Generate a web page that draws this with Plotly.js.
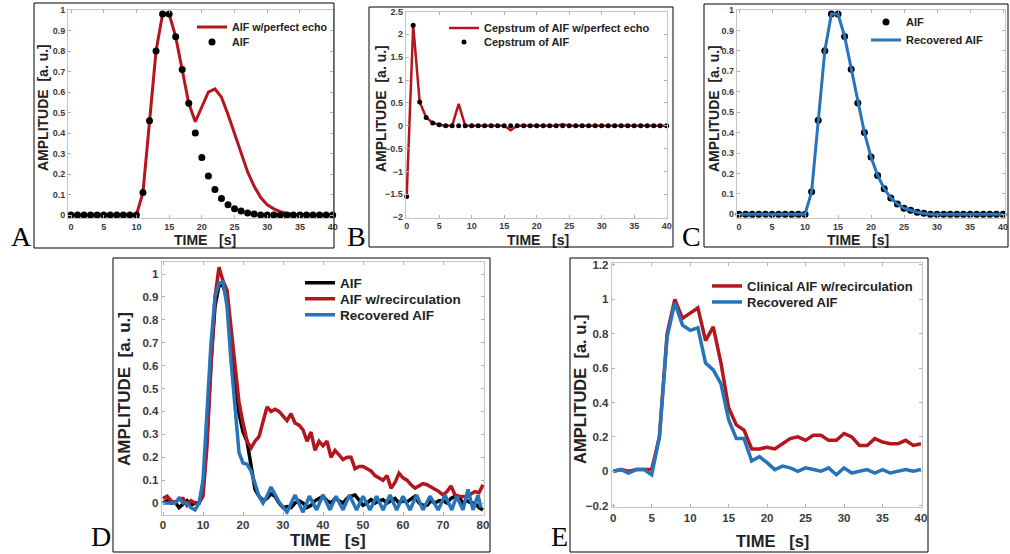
<!DOCTYPE html>
<html>
<head>
<meta charset="utf-8">
<script src="https://cdn.plot.ly/plotly-3.0.1.min.js"></script>
<style>
html,body{margin:0;padding:0;background:#fff;}
#chart{width:1010px;height:554px;}
</style>
</head>
<body>
<div id="chart"></div>
<script>
// ---------------- DATA ----------------
const time40 = [0,1,2,3,4,5,6,7,8,9,10,11,12,13,14,15,16,17,18,19,20,21,22,23,24,25,26,27,28,29,30,31,32,33,34,35,36,37,38,39,40];
const time80 = [0,1,2,3,4,5,6,7,8,9,10,11,12,13,14,15,16,17,18,19,20,21,22,23,24,25,26,27,28,29,30,31,32,33,34,35,36,37,38,39,40,41,42,43,44,45,46,47,48,49,50,51,52,53,54,55,56,57,58,59,60,61,62,63,64,65,66,67,68,69,70,71,72,73,74,75,76,77,78,79,80];

// Panel A
const aifA = [0,0,0,0,0,0,0,0,0,0,0,0.11,0.46,0.80,0.98,0.98,0.87,0.71,0.545,0.40,0.28,0.19,0.125,0.08,0.05,0.03,0.02,0.01,0.005,0,0,0,0,0,0,0,0,0,0,0,0];
const aifEchoA = [0,0,0,0,0,0,0,0,0,0,0,0.11,0.46,0.80,0.98,0.98,0.87,0.71,0.545,0.455,0.53,0.60,0.615,0.575,0.49,0.395,0.295,0.21,0.14,0.085,0.05,0.03,0.016,0.008,0.004,0.002,0,0,0,0,0];

// Panel B
const cepAifB = [-1.55,2.2,0.52,0.18,0.06,0.02,0,0,0,0,0,0,0,0,0,0,0,0,0,0,0,0,0,0,0,0,0,0,0,0,0,0,0,0,0,0,0,0,0,0,0];
const cepEchoB = [-1.55,2.2,0.52,0.18,0.06,0.02,0,0,0.48,0,0,0,0,0,0,0,-0.1,0,0,0,0,0,0,0,0.03,0,0,0,0,0,0,0,0,0,0,0,0,0,0,0,0];

// Panel C
const aifC = [0,0,0,0,0,0,0,0,0,0,0,0.11,0.46,0.80,0.98,0.98,0.87,0.71,0.545,0.40,0.28,0.19,0.125,0.08,0.05,0.03,0.02,0.01,0.005,0,0,0,0,0,0,0,0,0,0,0,0];
const recoveredC = [0,0,0,0,0,0,0,0,0,0,0,0.11,0.46,0.80,0.98,0.98,0.87,0.71,0.545,0.40,0.28,0.19,0.125,0.08,0.05,0.03,0.02,0.01,0.005,0,0,0,0,0,0,0,0,0,0,0,0];

// Panel D
const aifD = [0,0.01,0,0.005,-0.02,-0.005,0.01,-0.01,0,0,0.06,0.3,0.62,0.86,0.95,0.95,0.89,0.72,0.53,0.39,0.31,0.27,0.16,0.06,0.03,0.01,0.02,0.04,0.03,0,-0.02,-0.015,-0.02,0,0.01,0,-0.02,-0.01,0.01,0.02,0.03,0.01,0,0.02,0.01,0,0.02,0.03,0.035,0.01,-0.01,0,0.015,0,0.01,0.015,0,0.01,0.02,0,0.01,0.005,0.02,0.03,0,-0.01,-0.01,0.01,0,0.01,0.01,0,0.02,0.03,0.025,0,0.01,0,0,-0.02,-0.03];
const recircD = [0.02,0.03,0.01,0,0.02,0.02,-0.01,0.01,0,0,0.03,0.25,0.6,0.9,1.03,0.97,0.93,0.76,0.58,0.44,0.35,0.27,0.24,0.27,0.29,0.35,0.42,0.40,0.41,0.40,0.38,0.36,0.39,0.35,0.34,0.32,0.27,0.31,0.23,0.27,0.25,0.27,0.20,0.23,0.21,0.19,0.20,0.20,0.15,0.16,0.16,0.15,0.14,0.12,0.11,0.10,0.12,0.065,0.09,0.13,0.11,0.10,0.08,0.065,0.075,0.085,0.08,0.07,0.06,0.05,0.035,0.05,0.075,0.035,0.03,0.03,0.028,0.04,0.05,0.045,0.08];
const recoveredDt = [0,1,2,3,4,5,6,7,8,9,10,11,12,13,14,15,16,17,18,19,20,21,22,23,24,25,26,27,28,29,31,33,35,36.6,38.4,40,41.75,43.25,45,46.6,48.4,50,51.75,53.4,55,56.75,58.4,60,61.75,63.4,65,66.75,68.8,70.5,72.2,73.4,75,76.25,77.5,78.75,79.5];
const recoveredD = [0,0,0,0,0.02,0,0,-0.02,-0.03,0,0.1,0.4,0.7,0.9,0.96,0.965,0.86,0.62,0.4,0.22,0.175,0.17,0.14,0.08,0.03,0,0.03,0.07,0.04,0.005,-0.04,0.035,-0.04,0.03,-0.03,0.035,-0.03,0.03,-0.03,0.035,-0.03,0.03,-0.03,0.03,-0.03,0.035,-0.03,0.03,-0.03,0.035,-0.03,0.03,-0.03,0.035,-0.03,0.03,-0.03,0.06,-0.03,0.035,-0.02];

// Panel E
const clinicalE = [0,0.01,0,0.01,0.01,0.01,0.2,0.8,1.0,0.89,0.92,0.95,0.76,0.84,0.63,0.37,0.27,0.24,0.13,0.13,0.14,0.13,0.16,0.19,0.2,0.18,0.21,0.21,0.18,0.18,0.22,0.2,0.15,0.15,0.19,0.17,0.16,0.16,0.18,0.15,0.16];
const recoveredE = [0,0.01,-0.01,0.01,0.01,-0.02,0.2,0.78,0.98,0.85,0.82,0.835,0.63,0.59,0.51,0.3,0.19,0.19,0.06,0.085,0.05,0.01,0.03,0.02,0,0.02,0.01,0,0.02,-0.02,0.02,-0.01,0,0.01,-0.01,0.01,-0.01,0,0.01,0,0.01];

// Labels
const yTitleText = "AMPLITUDE  [a. u.]";
const xTitleText = "TIME   [s]";
const panelLetters = ["A","B","C","D","E"];

// ---------------- STYLE ----------------
const W = 1010, H = 554;
const RED = "#b3161c", BLUE = "#2674ba", BLACK = "#000000";
const SANS = "Liberation Sans, Arial, sans-serif";
const px = v => v / W;
const py = v => 1 - v / H;

function axis(domainPx, range, dtick, fontSize, isY) {
  const d = isY ? [py(domainPx[1]), py(domainPx[0])] : [px(domainPx[0]), px(domainPx[1])];
  return {
    domain: d, range: range, dtick: dtick, tick0: 0,
    showgrid: false, zeroline: false,
    showline: true, linecolor: "#c4c4c4", linewidth: 1, mirror: "allticks",
    ticks: "inside", ticklen: 3, tickcolor: "#b0b0b0", tickwidth: 1,
    tickfont: {family: SANS, size: fontSize, color: "#3a3a3a", weight: "bold"},
    fixedrange: true, automargin: false
  };
}

function legendCfg(xPx, yPx, size) {
  return {
    x: px(xPx), y: py(yPx), xanchor: "left", yanchor: "middle",
    bgcolor: "rgba(0,0,0,0)", borderwidth: 0,
    font: {family: SANS, size: size, color: "#222", weight: "bold"},
    itemwidth: 30
  };
}

const traces = [
  // A
  {x: time40, y: aifEchoA, type: "scatter", mode: "lines", name: "AIF w/perfect echo",
   line: {color: RED, width: 3}, xaxis: "x", yaxis: "y", legend: "legend"},
  {x: time40, y: aifA, type: "scatter", mode: "markers", name: "AIF",
   marker: {color: BLACK, size: 7}, cliponaxis: false, xaxis: "x", yaxis: "y", legend: "legend2"},
  // B
  {x: time40, y: cepEchoB, type: "scatter", mode: "lines", name: "Cepstrum of AIF w/perfect echo",
   line: {color: RED, width: 2.5}, xaxis: "x2", yaxis: "y2", legend: "legend3"},
  {x: time40, y: cepAifB, type: "scatter", mode: "markers", name: "Cepstrum of AIF",
   marker: {color: BLACK, size: 5}, cliponaxis: false, xaxis: "x2", yaxis: "y2", legend: "legend4"},
  // C
  {x: time40, y: aifC, type: "scatter", mode: "markers", name: "AIF",
   marker: {color: BLACK, size: 7}, cliponaxis: false, xaxis: "x3", yaxis: "y3", legend: "legend5"},
  {x: time40, y: recoveredC, type: "scatter", mode: "lines", name: "Recovered AIF",
   line: {color: BLUE, width: 3}, xaxis: "x3", yaxis: "y3", legend: "legend6"},
  // D
  {x: time80, y: aifD, type: "scatter", mode: "lines", name: "AIF",
   line: {color: BLACK, width: 3.5}, xaxis: "x4", yaxis: "y4", legend: "legend7"},
  {x: time80, y: recircD, type: "scatter", mode: "lines", name: "AIF w/recirculation",
   line: {color: RED, width: 3.5}, xaxis: "x4", yaxis: "y4", legend: "legend8"},
  {x: recoveredDt, y: recoveredD, type: "scatter", mode: "lines", name: "Recovered AIF",
   line: {color: BLUE, width: 3.5}, xaxis: "x4", yaxis: "y4", legend: "legend9"},
  // E
  {x: time40, y: clinicalE, type: "scatter", mode: "lines", name: "Clinical AIF w/recirculation",
   line: {color: RED, width: 3.5}, xaxis: "x5", yaxis: "y5", legend: "legend10"},
  {x: time40, y: recoveredE, type: "scatter", mode: "lines", name: "Recovered AIF",
   line: {color: BLUE, width: 3.5}, xaxis: "x5", yaxis: "y5", legend: "legend11"}
];

// panel frames [x0,y0,x1,y1] in px
const frames = [[34,3,334,248],[369,7,673,247],[704,4,1008,247],[113,258,490,552],[570,258,928,552]];
const shapes = frames.map(f => ({type: "rect", xref: "paper", yref: "paper",
  x0: px(f[0]), x1: px(f[2]), y0: py(f[3]), y1: py(f[1]), line: {color: "#000", width: 1}, layer: "above"}));

// annotations: axis titles + panel letters
const titleSpecs = [
  // [xTitleX, xTitleY, yTitleX, yTitleY, size]
  [205, 240, 43, 108, 14],
  [538, 240, 381, 109, 14],
  [858, 240, 714, 109, 14],
  [328, 540, 124, 389, 17],
  [772, 541, 580, 390, 16.5]
];
const annotations = [];
titleSpecs.forEach(s => {
  annotations.push({text: xTitleText, xref: "paper", yref: "paper", x: px(s[0]), y: py(s[1]),
    xanchor: "center", yanchor: "middle", showarrow: false,
    font: {family: SANS, size: s[4], color: "#222", weight: "bold"}});
  annotations.push({text: yTitleText, xref: "paper", yref: "paper", x: px(s[2]), y: py(s[3]),
    xanchor: "center", yanchor: "middle", showarrow: false, textangle: -90,
    font: {family: SANS, size: s[4], color: "#222", weight: "bold"}});
});
const letterPos = [[21,254],[356,254],[691,254],[101,554],[559,554]];
letterPos.forEach((p, i) => {
  annotations.push({text: panelLetters[i], xref: "paper", yref: "paper", x: px(p[0]), y: py(p[1]),
    xanchor: "center", yanchor: "bottom", showarrow: false,
    font: {family: "Liberation Serif, Times New Roman, serif", size: 28, color: "#000"}});
});

const layout = {
  width: W, height: H,
  margin: {l: 0, r: 0, t: 0, b: 0, pad: 0},
  paper_bgcolor: "#fff", plot_bgcolor: "#fff",
  showlegend: true,
  xaxis:  Object.assign(axis([68,333], [-0.46,40.05], 5, 9, false), {anchor: "y"}),
  yaxis:  Object.assign(axis([9.5,218.3], [-0.016,1.0025], 0.1, 9, true), {anchor: "x"}),
  xaxis2: Object.assign(axis([405.7,667], [-0.15,40.05], 5, 9, false), {anchor: "y2"}),
  yaxis2: Object.assign(axis([11.5,217.5], [-2.01,2.5], 0.5, 9, true), {anchor: "x2"}),
  xaxis3: Object.assign(axis([736.7,1005], [-0.35,40.3], 5, 9, false), {anchor: "y3"}),
  yaxis3: Object.assign(axis([9.5,218], [-0.018,1.002], 0.1, 9, true), {anchor: "x3"}),
  xaxis4: Object.assign(axis([161.7,484], [-0.33,80.25], 10, 11.5, false), {anchor: "y4"}),
  yaxis4: Object.assign(axis([261.7,514.5], [-0.05,1.054], 0.1, 11.5, true), {anchor: "x4"}),
  xaxis5: Object.assign(axis([611.7,921.5], [-0.2,40.07], 5, 11.5, false), {anchor: "y5"}),
  yaxis5: Object.assign(axis([263,506.7], [-0.206,1.2116], 0.2, 11.5, true), {anchor: "x5"}),
  legend:   legendCfg(192, 27, 10.7),
  legend2:  legendCfg(192, 42, 10.7),
  legend3:  legendCfg(444, 28, 11),
  legend4:  legendCfg(444, 42, 11),
  legend5:  legendCfg(866, 22, 11),
  legend6:  legendCfg(866, 40, 11),
  legend7:  legendCfg(300, 283, 13.5),
  legend8:  legendCfg(300, 299, 13.5),
  legend9:  legendCfg(300, 315, 13.5),
  legend10: legendCfg(707, 286, 13),
  legend11: legendCfg(707, 302, 13),
  shapes: shapes,
  annotations: annotations
};

Plotly.newPlot("chart", traces, layout, {staticPlot: true, displayModeBar: false});
</script>
</body>
</html>
